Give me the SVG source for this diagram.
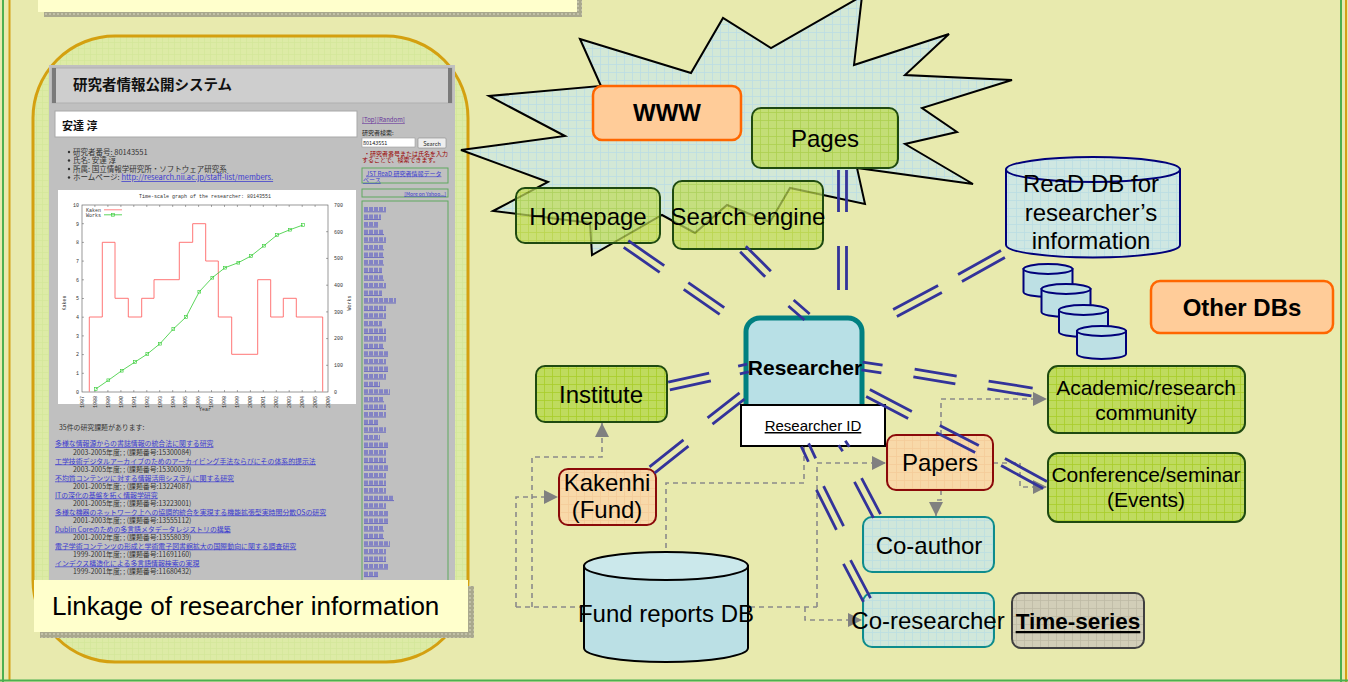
<svg xmlns="http://www.w3.org/2000/svg" width="1348" height="682" viewBox="0 0 1348 682">
<style>
.sans{font-family:"Liberation Sans",Arial,sans-serif}
.jp{font-family:"Noto Sans CJK JP","Liberation Sans",sans-serif}
.mono{font-family:"Liberation Mono","DejaVu Sans Mono",monospace;font-size:5px;fill:#333}
.lbl{font-family:"Liberation Sans",Arial,sans-serif;font-size:24px;text-anchor:middle;fill:#000}
.b{font-weight:bold}
.gbox{fill:url(#pGreen);stroke:#1F4A10;stroke-width:2}
.obox{fill:#FFCC99;stroke:#FF6600;stroke-width:2.5}
.rbox{fill:url(#pPeach);stroke:#8B0A0A;stroke-width:2}
.tbox{fill:url(#pTeal);stroke:#0E8C8C;stroke-width:2}
.cyl{stroke:#00007A;stroke-width:2}
.dash{fill:none;stroke:#8A8A8A;stroke-width:1.6;stroke-dasharray:5 4}
.dbl{fill:none;stroke:#33339A;stroke-width:2.8}
.lnk{fill:#3A3ACF;text-decoration:underline}
.dt{fill:#333}
.gb{fill:none;stroke:#5FA85F;stroke-width:1}
</style>
<defs>
<pattern id="pGreen" width="8" height="8" patternUnits="userSpaceOnUse"><rect width="8" height="8" fill="#BFDB5E"/><path d="M0 0.5H8M0.5 0V8" stroke="#A8CD2A" stroke-width="0.8"/></pattern>
<pattern id="pBurst" width="8" height="8" patternUnits="userSpaceOnUse"><rect width="8" height="8" fill="#D3E8D6"/><path d="M0 0.5H8M0.5 0V8" stroke="#BBDDE3" stroke-width="0.8"/></pattern>
<pattern id="pPeach" width="8" height="8" patternUnits="userSpaceOnUse"><rect width="8" height="8" fill="#F8D9A9"/><path d="M0 0.5H8M0.5 0V8" stroke="#F4CC99" stroke-width="0.8"/></pattern>
<pattern id="pTeal" width="8" height="8" patternUnits="userSpaceOnUse"><rect width="8" height="8" fill="#D0E7DA"/><path d="M0 0.5H8M0.5 0V8" stroke="#BBDEE2" stroke-width="0.8"/></pattern>
<pattern id="pGray" width="8" height="8" patternUnits="userSpaceOnUse"><rect width="8" height="8" fill="#D2CEB8"/><path d="M0 0.5H8M0.5 0V8" stroke="#BEBAA5" stroke-width="0.8"/></pattern>
<pattern id="pCyl" width="8" height="8" patternUnits="userSpaceOnUse"><rect width="8" height="8" fill="#CFE7E2"/><path d="M0 0.5H8M0.5 0V8" stroke="#BADDE3" stroke-width="0.8"/></pattern>
<pattern id="pArea" width="6" height="6" patternUnits="userSpaceOnUse"><rect width="6" height="6" fill="#DDEBA6"/><path d="M0 0.5H6M0.5 0V6" stroke="#D2E699" stroke-width="0.7"/></pattern>
<pattern id="pShadow" width="4" height="4" patternUnits="userSpaceOnUse"><rect width="4" height="4" fill="#A9A88E"/><rect x="1" y="1" width="2" height="2" fill="#C2C1A8"/></pattern>
<marker id="arr" viewBox="0 0 10 10" refX="10" refY="5" markerWidth="14" markerHeight="14" markerUnits="userSpaceOnUse" orient="auto"><path d="M0,0L10,5L0,10z" fill="#808080"/></marker>
</defs>

<rect width="1348" height="682" fill="#E8EAAE"/>
<g id="frame">
<line x1="3" y1="0" x2="3" y2="682" stroke="#4CAF50" stroke-width="2"/>
<line x1="9.5" y1="0" x2="9.5" y2="680" stroke="#D4A017" stroke-width="2"/>
<line x1="1341" y1="0" x2="1341" y2="682" stroke="#4CAF50" stroke-width="2"/>
<line x1="1346" y1="0" x2="1346" y2="682" stroke="#D4A017" stroke-width="2"/>
<line x1="0" y1="680.5" x2="1348" y2="680.5" stroke="#4CAF50" stroke-width="2"/>
</g>

<g id="top-box">
<rect x="44" y="0" width="538" height="17" fill="url(#pShadow)"/>
<rect x="38" y="-2" width="539" height="14" fill="#FFFFCC"/>
</g>

<g id="screenshot-panel">
<rect x="33" y="36" width="435" height="626" rx="82" fill="url(#pArea)" stroke="#D4A010" stroke-width="3"/>
<rect x="49" y="65" width="406" height="520" fill="#C0C0C0"/>
<rect x="52" y="68" width="400" height="35" fill="#CECECE" stroke="#B0B0B0" stroke-width="1"/>
<rect x="52" y="68" width="4" height="35" fill="#7A7A7A"/>
<rect x="448" y="68" width="4" height="35" fill="#7A7A7A"/>
<text x="73" y="90" class="jp b" style="font-size:14.5px" fill="#111">研究者情報公開システム</text>
<rect x="55" y="111" width="302" height="26" fill="#FFFFFF" stroke="#A8A8A8" stroke-width="1"/>
<text x="62" y="130" class="jp b" style="font-size:11px" fill="#111">安達 淳</text>
<g class="jp" style="font-size:7.5px" fill="#333">
<circle cx="69" cy="152" r="1.2"/><circle cx="69" cy="160.5" r="1.2"/><circle cx="69" cy="169" r="1.2"/><circle cx="69" cy="177.5" r="1.2"/>
<text x="73" y="154.5">研究者番号: 80143551</text>
<text x="73" y="163">氏名: 安達 淳</text>
<text x="73" y="171.5">所属: 国立情報学研究所・ソフトウェア研究系</text>
<text x="73" y="180">ホームページ: <tspan fill="#3A3ACF" text-decoration="underline">http://research.nii.ac.jp/staff-list/members.</tspan></text>
</g>
<!-- chart -->
<rect x="58" y="190" width="298" height="214" fill="#FFFFFF"/>
<text x="205" y="198" class="mono" text-anchor="middle">Time-scale graph of the researcher: 80143551</text>
<rect x="82" y="205" width="246" height="187" fill="none" stroke="#555" stroke-width="0.6"/>
<path d="M94.9 392v-2M107.9 392v-2M120.9 392v-2M133.8 392v-2M146.8 392v-2M159.7 392v-2M172.7 392v-2M185.6 392v-2M198.6 392v-2M211.5 392v-2M224.5 392v-2M237.4 392v-2M250.4 392v-2M263.3 392v-2M276.3 392v-2M289.2 392v-2M302.2 392v-2M315.1 392v-2M94.9 205v2M107.9 205v2M120.9 205v2M133.8 205v2M146.8 205v2M159.7 205v2M172.7 205v2M185.6 205v2M198.6 205v2M211.5 205v2M224.5 205v2M237.4 205v2M250.4 205v2M263.3 205v2M276.3 205v2M289.2 205v2M302.2 205v2M315.1 205v2M82 373.3h2M82 354.6h2M82 335.9h2M82 317.2h2M82 298.5h2M82 279.8h2M82 261.1h2M82 242.4h2M82 223.7h2M328 365.3h-2M328 338.6h-2M328 311.9h-2M328 285.2h-2M328 258.4h-2M328 231.7h-2" stroke="#555" stroke-width="0.5"/>
<g class="mono" text-anchor="end">
<text x="79" y="393.8">0</text><text x="79" y="375.1">1</text><text x="79" y="356.4">2</text><text x="79" y="337.7">3</text><text x="79" y="319">4</text><text x="79" y="300.3">5</text><text x="79" y="281.6">6</text><text x="79" y="262.9">7</text><text x="79" y="244.2">8</text><text x="79" y="225.5">9</text><text x="79" y="206.8">10</text>
</g>
<g class="mono">
<text x="334" y="393.8">0</text><text x="334" y="367.1">100</text><text x="334" y="340.4">200</text><text x="334" y="313.7">300</text><text x="334" y="287">400</text><text x="334" y="260.3">500</text><text x="334" y="233.5">600</text><text x="334" y="206.8">700</text>
</g>
<g class="mono">
<text transform="translate(83.8 408) rotate(-90)">1987</text><text transform="translate(96.8 408) rotate(-90)">1988</text><text transform="translate(109.7 408) rotate(-90)">1989</text><text transform="translate(122.7 408) rotate(-90)">1990</text><text transform="translate(135.6 408) rotate(-90)">1991</text><text transform="translate(148.6 408) rotate(-90)">1992</text><text transform="translate(161.5 408) rotate(-90)">1993</text><text transform="translate(174.5 408) rotate(-90)">1994</text><text transform="translate(187.4 408) rotate(-90)">1995</text><text transform="translate(200.4 408) rotate(-90)">1996</text><text transform="translate(213.3 408) rotate(-90)">1997</text><text transform="translate(226.3 408) rotate(-90)">1998</text><text transform="translate(239.2 408) rotate(-90)">1999</text><text transform="translate(252.2 408) rotate(-90)">2000</text><text transform="translate(265.1 408) rotate(-90)">2001</text><text transform="translate(278.1 408) rotate(-90)">2002</text><text transform="translate(291 408) rotate(-90)">2003</text><text transform="translate(304 408) rotate(-90)">2004</text><text transform="translate(316.9 408) rotate(-90)">2005</text><text transform="translate(329.9 408) rotate(-90)">2006</text>
<text x="205" y="411" text-anchor="middle">Year</text>
<text transform="translate(66 303) rotate(-90)" text-anchor="middle">Kaken</text>
<text transform="translate(351 303) rotate(-90)" text-anchor="middle">Works</text>
<text x="86" y="211.5">Kaken</text>
<text x="86" y="216.5">Works</text>
</g>
<path d="M104 209.8H122" stroke="#FF6666" stroke-width="0.8"/>
<path d="M104 214.8H122" stroke="#33CC33" stroke-width="0.8"/>
<rect x="111.6" y="213.4" width="2.8" height="2.8" fill="none" stroke="#33CC33" stroke-width="0.6"/>
<path d="M89.3 391.7V317H102.3V242.3H115V298.3H128.3V317H141.7V298.3H154V279.7H179.3V242.3H192.7V223.7H205.7V261H218.3V317H231.7V354.3H257.7V279.7H270.7V317H283.3V298.3H296.3V317H322.7V391.7" fill="none" stroke="#FF6666" stroke-width="0.9"/>
<polyline points="95.7,389 108.3,380.3 121.7,370.7 135,362 147.3,354 160,343.7 173.3,329 186,317 199.3,291.7 212.3,277.7 225,267.7 238.3,262.7 251,256 264,245.7 277,235 290,229.7 303,225" fill="none" stroke="#33CC33" stroke-width="0.8"/>
<g fill="none" stroke="#33CC33" stroke-width="0.6">
<rect x="94.3" y="387.6" width="2.8" height="2.8"/><rect x="106.9" y="378.9" width="2.8" height="2.8"/><rect x="120.3" y="369.3" width="2.8" height="2.8"/><rect x="133.6" y="360.6" width="2.8" height="2.8"/><rect x="145.9" y="352.6" width="2.8" height="2.8"/><rect x="158.6" y="342.3" width="2.8" height="2.8"/><rect x="171.9" y="327.6" width="2.8" height="2.8"/><rect x="184.6" y="315.6" width="2.8" height="2.8"/><rect x="197.9" y="290.3" width="2.8" height="2.8"/><rect x="210.9" y="276.3" width="2.8" height="2.8"/><rect x="223.6" y="266.3" width="2.8" height="2.8"/><rect x="236.9" y="261.3" width="2.8" height="2.8"/><rect x="249.6" y="254.6" width="2.8" height="2.8"/><rect x="262.6" y="244.3" width="2.8" height="2.8"/><rect x="275.6" y="233.6" width="2.8" height="2.8"/><rect x="288.6" y="228.3" width="2.8" height="2.8"/><rect x="301.6" y="223.6" width="2.8" height="2.8"/>
</g>
<!-- project list -->
<g class="jp" style="font-size:6.9px">
<text x="59" y="429.5" class="dt">35件の研究課題があります:</text>
<text x="55" y="446" class="lnk">多様な情報源からの書誌情報の統合法に関する研究</text>
<text x="73" y="454.5" class="dt">2003-2005年度; ; (課題番号:15300084)</text>
<text x="55" y="463.5" class="lnk">工学技術デジタルアーカイブのためのアーカイビング手法ならびにその体系的提示法</text>
<text x="73" y="471.5" class="dt">2003-2005年度; ; (課題番号:15300039)</text>
<text x="55" y="480.5" class="lnk">不均質コンテンツに対する情報活用システムに関する研究</text>
<text x="73" y="488.5" class="dt">2001-2005年度; ; (課題番号:13224087)</text>
<text x="55" y="497.5" class="lnk">ITの深化の基盤を拓く情報学研究</text>
<text x="73" y="505.5" class="dt">2001-2005年度; ; (課題番号:13223001)</text>
<text x="55" y="514.5" class="lnk">多様な機器のネットワーク上への協調的統合を実現する機能拡張型実時間分散OSの研究</text>
<text x="73" y="522.5" class="dt">2001-2003年度; ; (課題番号:13555112)</text>
<text x="55" y="531.5" class="lnk">Dublin Coreのための多言語メタデータレジストリの構築</text>
<text x="73" y="539.5" class="dt">2001-2002年度; ; (課題番号:13558039)</text>
<text x="55" y="548.5" class="lnk">電子学術コンテンツの形成と学術電子図書館拡大の国際動向に関する調査研究</text>
<text x="73" y="556.5" class="dt">1999-2001年度; ; (課題番号:11691160)</text>
<text x="55" y="565.5" class="lnk">インデクス構造化による多言語情報検索の実現</text>
<text x="73" y="573.5" class="dt">1999-2001年度; ; (課題番号:11680432)</text>
</g>
<!-- right column -->
<g class="jp" style="font-size:6px">
<text x="362" y="122" fill="#663399" text-decoration="underline">[Top]</text>
<text x="377" y="122" fill="#663399" text-decoration="underline">[Random]</text>
<text x="362" y="135" fill="#222">研究者検索:</text>
<rect x="362" y="138" width="53" height="9" fill="#FFF" stroke="#999" stroke-width="0.6"/>
<text x="363" y="145" style="font-size:5.5px" fill="#222">80143551</text>
<rect x="418" y="138" width="28" height="10" rx="1" fill="#EEEEEE" stroke="#888" stroke-width="0.6"/>
<text x="432" y="145.5" text-anchor="middle" style="font-size:5.5px" fill="#222">Search</text>
<text x="364" y="155.5" fill="#990000">・研究者番号または氏名を入力</text>
<text x="362" y="162" fill="#990000">することで、検索できます。</text>
<rect x="362" y="168" width="86" height="15" class="gb"/>
<text x="366" y="175.5" class="lnk">JST ReaD 研究者情報データ</text>
<text x="363" y="182" class="lnk">ベース</text>
<rect x="362" y="189" width="86" height="8" class="gb"/>
<text x="446" y="195.5" text-anchor="end" style="font-size:5px" class="lnk">[More on Yahoo...]</text>
</g>
<rect x="362" y="201" width="86" height="384" class="gb"/>
<path d="M364,209h22m-22,7.6h17m-17,7.6h14m-14,7.6h20m-20,7.6h22m-22,7.6h20m-20,7.6h20m-20,7.6h20m-20,7.6h18m-18,7.6h20m-20,7.6h22m-22,7.6h18m-18,7.6h32m-32,7.6h22m-22,7.6h22m-22,7.6h18m-18,7.6h22m-22,7.6h22m-22,7.6h20m-20,7.6h24m-24,7.6h22m-22,7.6h24m-24,7.6h22m-22,7.6h16m-16,7.6h26m-26,7.6h20m-20,7.6h22m-22,7.6h22m-22,7.6h14m-14,7.6h22m-22,7.6h16m-16,7.6h24m-24,7.6h22m-22,7.6h22m-22,7.6h24m-24,7.6h22m-22,7.6h22m-22,7.6h22m-22,7.6h30m-30,7.6h22m-22,7.6h24m-24,7.6h24m-24,7.6h20m-20,7.6h20m-20,7.6h26m-26,7.6h22m-22,7.6h22m-22,7.6h24m-24,7.6h14" fill="none" stroke="#5A5AC8" stroke-width="4.2" stroke-opacity="0.6" stroke-dasharray="4 1"/>
<path transform="translate(0 2.8)" d="M364,209h22m-22,7.6h17m-17,7.6h14m-14,7.6h20m-20,7.6h22m-22,7.6h20m-20,7.6h20m-20,7.6h20m-20,7.6h18m-18,7.6h20m-20,7.6h22m-22,7.6h18m-18,7.6h32m-32,7.6h22m-22,7.6h22m-22,7.6h18m-18,7.6h22m-22,7.6h22m-22,7.6h20m-20,7.6h24m-24,7.6h22m-22,7.6h24m-24,7.6h22m-22,7.6h16m-16,7.6h26m-26,7.6h20m-20,7.6h22m-22,7.6h22m-22,7.6h14m-14,7.6h22m-22,7.6h16m-16,7.6h24m-24,7.6h22m-22,7.6h22m-22,7.6h24m-24,7.6h22m-22,7.6h22m-22,7.6h22m-22,7.6h30m-30,7.6h22m-22,7.6h24m-24,7.6h24m-24,7.6h20m-20,7.6h20m-20,7.6h26m-26,7.6h22m-22,7.6h22m-22,7.6h24m-24,7.6h14" fill="none" stroke="#3030C0" stroke-width="0.6"/>
</g>

<g id="label-linkage">
<rect x="40" y="586" width="434" height="52" fill="url(#pShadow)"/>
<rect x="34" y="580" width="434" height="52" fill="#FFFFCC"/>
<text x="52" y="615" class="sans" style="font-size:26px" fill="#000">Linkage of researcher information</text>
</g>

<g id="www-burst">
<polygon points="580,39 691,73 723,18 771,48 862,-4 854,65 949,34 905,75 1012,80 922,108 957,132 905,144 973,184 857,168 865,204 790,188 770,222 727,205 695,233 662,215 592,255 590,223 493,211 548,182 461,150 565,136 489,96 601,86" fill="url(#pBurst)" stroke="#000" stroke-width="2"/>
</g>
<g id="node-www">
<rect x="593" y="86" width="148" height="54" rx="9" class="obox"/>
<text x="667" y="121" class="lbl b">WWW</text>
</g>
<g id="node-pages">
<rect x="752" y="108" width="146" height="60" rx="9" class="gbox" fill-opacity="0.8"/>
<text x="825" y="147" class="lbl">Pages</text>
</g>
<g id="node-homepage">
<rect x="516" y="188" width="144" height="55" rx="9" class="gbox" fill-opacity="0.72"/>
<text x="588" y="225" class="lbl">Homepage</text>
</g>
<g id="node-search">
<rect x="673" y="181" width="150" height="68" rx="9" class="gbox" fill-opacity="0.72"/>
<text x="748" y="225" class="lbl">Search engine</text>
</g>

<g id="node-read-db">
<path d="M1006,169.5V245A87,12.5 0 0 0 1180,245V169.5Z" fill="url(#pCyl)" class="cyl"/>
<ellipse cx="1093" cy="169.5" rx="87" ry="12.5" fill="url(#pCyl)" class="cyl"/>
<text x="1091" y="192" class="lbl">ReaD DB for</text>
<text x="1091" y="221" class="lbl">researcher’s</text>
<text x="1091" y="249" class="lbl">information</text>
</g>
<g id="node-db-stack" fill="#BDE0E4">
<path d="M1023.5,269V292A24.5,5 0 0 0 1072.5,292V269Z" class="cyl"/><ellipse cx="1048" cy="269" rx="24.5" ry="5" class="cyl"/>
<path d="M1041.5,289V312A24.5,5 0 0 0 1090.5,312V289Z" class="cyl"/><ellipse cx="1066" cy="289" rx="24.5" ry="5" class="cyl"/>
<path d="M1059,310V332A24.5,5 0 0 0 1108,332V310Z" class="cyl"/><ellipse cx="1083.5" cy="310" rx="24.5" ry="5" class="cyl"/>
<path d="M1077,331V354A24.5,5 0 0 0 1126,354V331Z" class="cyl"/><ellipse cx="1101.5" cy="331" rx="24.5" ry="5" class="cyl"/>
</g>
<g id="node-other-dbs">
<rect x="1151" y="281" width="182" height="52" rx="9" class="obox"/>
<text x="1242" y="316" class="lbl b">Other DBs</text>
</g>

<g id="connectors-dashed">
<path class="dash" d="M516,607H817"/>
<path class="dash" d="M516,607V497H558" marker-end="url(#arr)"/>
<path class="dash" d="M532,607V457H602V423" marker-end="url(#arr)"/>
<path class="dash" d="M804,447V483H666V552"/>
<path class="dash" d="M817,607V463H886" marker-end="url(#arr)"/>
<path class="dash" d="M805,607V620H862" marker-end="url(#arr)"/>
<path class="dash" d="M941,435V399H1047" marker-end="url(#arr)"/>
<path class="dash" d="M993,463H1020V487H1047" marker-end="url(#arr)"/>
<path class="dash" d="M941,490V500H936V516" marker-end="url(#arr)"/>
</g>

<g id="node-institute">
<rect x="536" y="366" width="131" height="56" rx="9" class="gbox"/>
<text x="601" y="403" class="lbl">Institute</text>
</g>
<g id="node-kakenhi">
<rect x="559" y="469" width="97" height="56" rx="9" class="rbox"/>
<text x="607" y="491" class="lbl">Kakenhi</text>
<text x="607" y="518" class="lbl">(Fund)</text>
</g>
<g id="node-fund-db">
<path d="M584,566V648A82,14 0 0 0 748,648V566Z" fill="#BBE0E5" stroke="#000" stroke-width="2"/>
<ellipse cx="666" cy="566" rx="82" ry="14" fill="#CBE8EB" stroke="#000" stroke-width="2"/>
<text x="666" y="622" class="lbl">Fund reports DB</text>
</g>
<g id="node-researcher">
<rect x="746" y="318" width="116" height="100" rx="14" fill="#B8E0E6" stroke="#008080" stroke-width="5"/>
<text x="805" y="375" class="lbl b" style="font-size:21px">Researcher</text>
</g>
<g id="node-researcher-id">
<rect x="741" y="405" width="144" height="41" fill="#FFFFFF" stroke="#000" stroke-width="2"/>
<text x="813" y="431" class="lbl" style="font-size:15px" text-decoration="underline">Researcher ID</text>
</g>
<g id="node-papers">
<rect x="887" y="435" width="106" height="55" rx="9" class="rbox"/>
<text x="940" y="471" class="lbl">Papers</text>
</g>
<g id="node-academic">
<rect x="1048" y="366" width="197" height="67" rx="10" class="gbox"/>
<text x="1146" y="395" class="lbl" style="font-size:21px">Academic/research</text>
<text x="1146" y="420" class="lbl" style="font-size:21px">community</text>
</g>
<g id="node-conference">
<rect x="1048" y="453" width="197" height="69" rx="10" class="gbox"/>
<text x="1146" y="482" class="lbl" style="font-size:21px">Conference/seminar</text>
<text x="1146" y="507" class="lbl" style="font-size:21px">(Events)</text>
</g>
<g id="node-coauthor">
<rect x="863" y="517" width="131" height="55" rx="9" class="tbox"/>
<text x="929" y="554" class="lbl">Co-author</text>
</g>
<g id="node-coresearcher">
<rect x="863" y="593" width="131" height="54" rx="9" class="tbox"/>
<text x="928" y="629" class="lbl">Co-researcher</text>
</g>
<g id="node-timeseries">
<rect x="1012" y="593" width="132" height="55" rx="9" fill="url(#pGray)" stroke="#404040" stroke-width="2"/>
<text x="1078" y="629" class="lbl b" style="font-size:22.5px" text-decoration="underline">Time-series</text>
</g>

<g id="connectors-links">
<path class="dbl" d="M0-4H43.8M0 4H43.8" transform="translate(626 244) rotate(34.8)"/>
<path class="dbl" d="M0-4H43.8M0 4H43.8" transform="translate(686 286) rotate(34.8)"/>
<path class="dbl" d="M0-4H35.4M0 4H35.4" transform="translate(743 249) rotate(45)"/>
<path class="dbl" d="M0-4H21.3M0 4H21.3" transform="translate(791 303) rotate(41.2)"/>
<path class="dbl" d="M0-4H42M0 4H42" transform="translate(842.5 170) rotate(90)"/>
<path class="dbl" d="M0-4H44M0 4H44" transform="translate(842.5 246) rotate(90)"/>
<path class="dbl" d="M0-4H51M0 4H51" transform="translate(895 313) rotate(-28.1)"/>
<path class="dbl" d="M0-4H49.2M0 4H49.2" transform="translate(960 278) rotate(-29.2)"/>
<path class="dbl" d="M0-4H20.2M0 4H20.2" transform="translate(862 366) rotate(8.5)"/>
<path class="dbl" d="M0-4H42.6M0 4H42.6" transform="translate(914 373) rotate(9.5)"/>
<path class="dbl" d="M0-4H44.6M0 4H44.6" transform="translate(988 385) rotate(9)"/>
<path class="dbl" d="M0-4H47.4M0 4H47.4" transform="translate(868 393) rotate(27.6)"/>
<path class="dbl" d="M0-4H43.8M0 4H43.8" transform="translate(938 429) rotate(27.1)"/>
<path class="dbl" d="M0-4H47.9M0 4H47.9" transform="translate(1003 462) rotate(28.7)"/>
<path class="dbl" d="M0-4H42M0 4H42" transform="translate(669 386) rotate(-12.4)"/>
<path class="dbl" d="M0-4H9.2M0 4H9.2" transform="translate(739 370) rotate(-12.5)"/>
<path class="dbl" d="M0-4H43.4M0 4H43.4" transform="translate(652 470) rotate(-38.5)"/>
<path class="dbl" d="M0-4H40.6M0 4H40.6" transform="translate(710 421) rotate(-38)"/>
<path class="dbl" d="M0-4H7.2M0 4H7.2" transform="translate(842 443) rotate(56.3)"/>
<path class="dbl" d="M0-4H40.7M0 4H40.7" transform="translate(858 480) rotate(62.2)"/>
<path class="dbl" d="M0-4H16.6M0 4H16.6" transform="translate(805 445) rotate(65)"/>
<path class="dbl" d="M0-4H44.7M0 4H44.7" transform="translate(820 488) rotate(63.4)"/>
<path class="dbl" d="M0-4H42.9M0 4H42.9" transform="translate(847 562) rotate(62.2)"/>
</g>
</svg>
